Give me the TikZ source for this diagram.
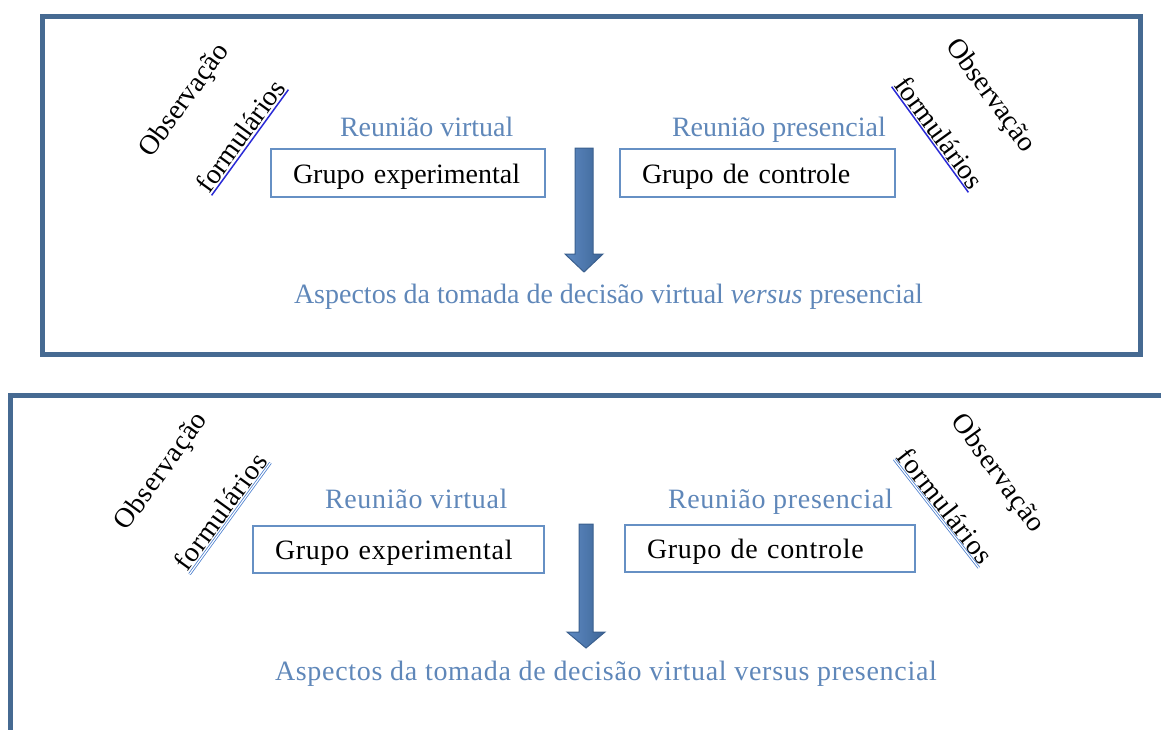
\documentclass[tikz,border=0pt]{standalone}
\usepackage{fontspec}
\setmainfont{Liberation Serif}
\newfontfamily\widefont[LetterSpace=2.5]{Liberation Serif}
\definecolor{framec}{HTML}{466A92}
\definecolor{textblue}{HTML}{5F87B9}
\definecolor{boxc}{HTML}{6690C4}
\definecolor{arrowl}{HTML}{5E8AC2}
\definecolor{arrowr}{HTML}{3D6597}
\definecolor{arrowd}{HTML}{3A5F8E}
\definecolor{spellc}{HTML}{2A2AD6}
\definecolor{dblc}{HTML}{4D80CF}
\begin{document}
\begin{tikzpicture}[x=1pt,y=-1pt,
  every node/.style={inner sep=0pt, outer sep=0pt},
  big/.style={font=\fontsize{28}{32}\selectfont},
  bigw/.style={font=\widefont\fontsize{28}{32}\selectfont},
  frame/.style={draw=framec, line width=5pt},
  lbl/.style={text=textblue, anchor=base west},
  grp/.style={draw=boxc, line width=1.4pt, minimum height=48pt, inner xsep=22pt, align=left, text height=22pt, text depth=2pt, anchor=north west},
  form/.style={inner ysep=2pt, anchor=south},
  spell/.style={draw=spellc, line width=1.5pt},
  dbl/.style={draw=dblc, double=white, double distance=1.2pt, line width=0.8pt},
  arrowshape/.style={left color=arrowl, right color=arrowr, draw=arrowd, line width=1pt}
]
\useasboundingbox (0,0) rectangle (1161,729);
\clip (0,0) rectangle (1161,729);

% ---------- top panel ----------
\draw[frame] (42,16.5) rectangle (1140,354);

\node[big, rotate=54] (obs1) at (185,101) {Observação};
\node[big, form, rotate=54] (frm1) at (250,142.5) {formulários};
\draw[spell] (frm1.south west) -- (frm1.south east);

\node[big, rotate=-54] (obs2) at (990,96) {Observação};
\node[big, form, rotate=-54] (frm2) at (930,139.5) {formulários};
\draw[spell] (frm2.south west) -- (frm2.south east);

\node[big, lbl] (rv1) at (340,136) {Reunião virtual};
\node[big, lbl] (rp1) at (672,136) {Reunião presencial};

\node[big, grp, text width=230pt] (ge1) at (271,149) {Grupo experimental};
\node[big, grp, text width=231pt] (gc1) at (620,149) {Grupo de controle};

\path[arrowshape] (575,148) -- (593,148) -- (593,254) -- (603,254) -- (584,272) -- (565,254) -- (575,254) -- cycle;

\node[big, lbl] (asp1) at (294,303) {Aspectos da tomada de decisão virtual \textit{versus} presencial};

% ---------- bottom panel ----------
\draw[frame] (10,745) -- (10,395) -- (1175,395);

\node[bigw, rotate=54] (obs3) at (162,472) {Observação};
\node[bigw, form, rotate=54] (frm3) at (230,518.5) {formulários};
\draw[dbl] (frm3.south west) -- (frm3.south east);

\node[bigw, rotate=-54] (obs4) at (997,474) {Observação};
\node[bigw, form, rotate=-52] (frm4) at (936.5,513.5) {formulários};
\draw[dbl] (frm4.south west) -- (frm4.south east);

\node[bigw, lbl] (rv2) at (325,508) {Reunião virtual};
\node[bigw, lbl] (rp2) at (668,508) {Reunião presencial};

\node[bigw, grp, text width=247pt, minimum height=47pt] (ge2) at (253,526) {Grupo experimental};
\node[bigw, grp, text width=246pt, minimum height=47pt] (gc2) at (625,525) {Grupo de controle};

\path[arrowshape] (579,524) -- (593,524) -- (593,632) -- (605,632) -- (586,648) -- (567,632) -- (579,632) -- cycle;

\node[bigw, lbl] (asp2) at (275,680) {Aspectos da tomada de decisão virtual versus presencial};
\end{tikzpicture}
\end{document}
